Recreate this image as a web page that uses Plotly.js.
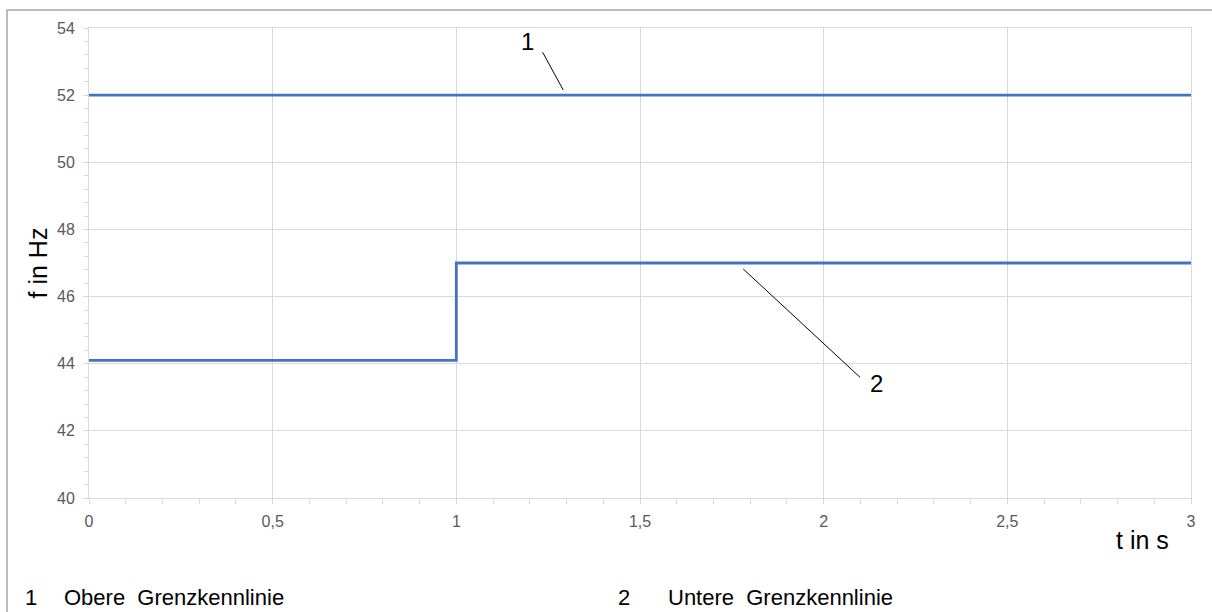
<!DOCTYPE html>
<html>
<head>
<meta charset="utf-8">
<script src="https://cdn.plot.ly/plotly-3.0.1.min.js"></script>
<style>
html,body{margin:0;padding:0;background:#fff;}
#chart{width:1212px;height:612px;}
</style>
</head>
<body>
<div id="chart"></div>
<script>
// Data
var time = [0, 1, 3];
var upperLimit = [52, 52, 52];
var lowerLimit = [44.1, 47, 47];
var seriesNames = ["Obere Grenzkennlinie", "Untere Grenzkennlinie"];
var seriesNumbers = ["1", "2"];
// leader lines: [x0, y0, x1, y1] in data units, label positions
var leaderLines = [[1.235, 53.276, 1.291, 52.153], [1.781, 46.821, 2.099, 43.595]];
var leaderLabelX = [1.194, 2.144];
var leaderLabelY = [53.61, 43.41];

var FONT = "Liberation Sans";
var blue = "#4472C4";

var traces = [
  {x: time, y: upperLimit, mode: "lines", line: {color: blue, width: 2.8}, name: seriesNames[0], hoverinfo: "skip"},
  {x: time, y: lowerLimit, mode: "lines", line: {color: blue, width: 2.8, shape: "hv"}, name: seriesNames[1], hoverinfo: "skip"}
];

var L = 89, R = 21, T = 28, B = 114, W = 1212, H = 612;
var pw = W - L - R, ph = H - T - B;
function px(x) { return (x - L) / pw; }
function py(y) { return (H - B - y) / ph; }

var shapes = [];
leaderLines.forEach(function (l) {
  shapes.push({type: "line", xref: "x", yref: "y", x0: l[0], y0: l[1], x1: l[2], y1: l[3], line: {color: "#000", width: 1}});
});
shapes.push({type: "path", xref: "paper", yref: "paper",
  path: "M " + px(7) + "," + py(612) + " L " + px(7) + "," + py(10) + " L " + px(1212) + "," + py(10),
  line: {color: "#a6a6a6", width: 1.5}});

var annotations = [];
for (var i = 0; i < 2; i++) {
  annotations.push({x: leaderLabelX[i], y: leaderLabelY[i], xref: "x", yref: "y", text: seriesNumbers[i], showarrow: false, font: {family: FONT, size: 24, color: "#000"}});
}
annotations.push({x: px(1171), y: py(540), xref: "paper", yref: "paper", xanchor: "right", yanchor: "middle", text: "t in s", showarrow: false, font: {family: FONT, size: 25, color: "#000"}});
var legendNumX = [23, 616];
var legendTextX = [62, 666];
for (var j = 0; j < 2; j++) {
  annotations.push({x: px(legendNumX[j]), y: py(597), xref: "paper", yref: "paper", xanchor: "left", yanchor: "middle", text: seriesNumbers[j], showarrow: false, font: {family: FONT, size: 22, color: "#000"}});
  annotations.push({x: px(legendTextX[j]), y: py(597), xref: "paper", yref: "paper", xanchor: "left", yanchor: "middle", text: seriesNames[j].replace(" ", "&nbsp; "), showarrow: false, font: {family: FONT, size: 22, color: "#000"}});
}

var tickFont = {family: FONT, size: 16, color: "#595959"};

var layout = {
  width: W, height: H,
  margin: {l: L, r: R, t: T, b: B, pad: 0},
  paper_bgcolor: "#fff", plot_bgcolor: "#fff",
  separators: ",.",
  showlegend: false,
  font: {family: FONT, size: 16, color: "#595959"},
  xaxis: {
    range: [0, 3], dtick: 0.5, tick0: 0, tickmode: "linear",
    showgrid: true, gridcolor: "#d9d9d9", gridwidth: 1,
    showline: true, linecolor: "#d9d9d9", linewidth: 1, mirror: true,
    zeroline: false,
    ticks: "outside", ticklen: 5, tickcolor: "#d9d9d9",
    minor: {dtick: 0.1, ticks: "outside", ticklen: 5, tickcolor: "#d9d9d9", showgrid: false},
    tickfont: tickFont,
    ticklabelstandoff: 4
  },
  yaxis: {
    range: [40, 54], dtick: 2, tick0: 40, tickmode: "linear",
    showgrid: true, gridcolor: "#d9d9d9", gridwidth: 1,
    showline: true, linecolor: "#d9d9d9", linewidth: 1, mirror: true,
    zeroline: false,
    ticks: "outside", ticklen: 5, tickcolor: "#d9d9d9",
    minor: {dtick: 0.4, ticks: "outside", ticklen: 4, tickcolor: "#d9d9d9", showgrid: false},
    tickfont: tickFont,
    ticklabelstandoff: 5,
    title: {text: "f in Hz", font: {family: FONT, size: 25, color: "#000"}, standoff: 2}
  },
  shapes: shapes,
  annotations: annotations
};

Plotly.newPlot("chart", traces, layout, {staticPlot: true, displayModeBar: false});
</script>
</body>
</html>
